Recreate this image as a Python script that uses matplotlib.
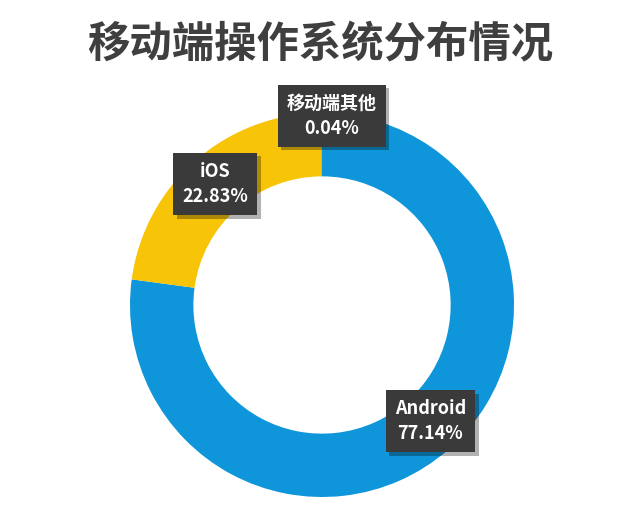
import matplotlib
matplotlib.use("Agg")
import matplotlib.pyplot as plt
import matplotlib.patheffects as pe

plt.rcParams['font.family'] = ['Noto Sans CJK SC', 'DejaVu Sans']

title = "移动端操作系统分布情况"
categories = ["Android", "iOS", "移动端其他"]
values = [77.14, 22.83, 0.04]
colors = ["#0f95d9", "#f7c408", "#0f95d9"]
label_pos = [(0.565, -0.605), (-0.555, 0.63), (0.05, 0.985)]

fig = plt.figure(figsize=(6.4, 5.15), dpi=100)
fig.patch.set_facecolor("white")
fig.text(0.50, 0.912, title, ha="center", va="center", fontsize=30.5,
         fontweight="bold", color="#3f3f3f")

ax = fig.add_axes([(322 - 192) / 640, (515 - 305 - 192) / 515, 384 / 640, 384 / 515])
ax.pie(values, colors=colors, startangle=90, counterclock=False,
       radius=1, wedgeprops=dict(width=0.33, edgecolor="none"))
ax.set_xlim(-1, 1)
ax.set_ylim(-1, 1)
ax.set_aspect("auto")
ax.axis("off")

for cat, v, (x, y) in zip(categories, values, label_pos):
    t = ax.text(x, y, f"{cat}\n{v:.2f}%", ha="center", va="center",
                fontsize=13, fontweight="bold", color="white",
                linespacing=1.4,
                bbox=dict(boxstyle="square,pad=0.5", facecolor="#3a3a3a",
                          edgecolor="none"))
    t.get_bbox_patch().set_path_effects([
        pe.SimplePatchShadow(offset=(2.5, -2.5), shadow_rgbFace="#000000", alpha=0.3),
        pe.Normal()])

fig.savefig("out.png", dpi=100, facecolor="white")
